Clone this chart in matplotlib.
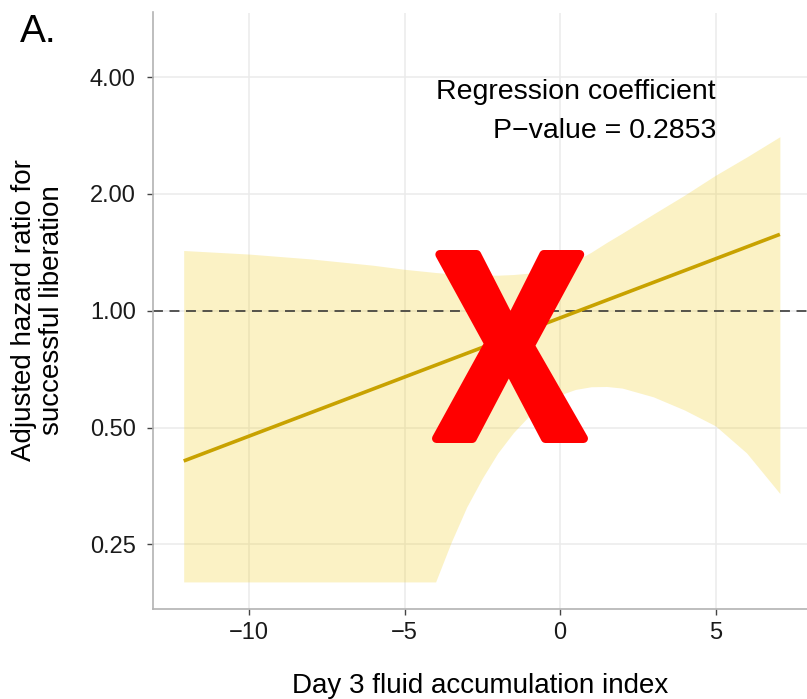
import matplotlib
matplotlib.use("Agg")
import matplotlib.pyplot as plt
from matplotlib.textpath import TextPath
from matplotlib.font_manager import FontProperties
from matplotlib.patches import PathPatch
from matplotlib.transforms import Affine2D

plt.rcParams['font.family'] = ['Liberation Sans', 'DejaVu Sans']

# band (x = day 3 fluid accumulation index)
band_x = [-12.1, -10, -8, -6, -5, -4.0, -3.5, -3.0, -2.5, -2.0, -1.5, -1.0, -0.5,
          0, 0.5, 1.0, 1.5, 2.0, 3.0, 4.0, 5.0, 6.0, 7.07]
band_lower = [0.2, 0.2, 0.2, 0.2, 0.2, 0.2, 0.253, 0.312, 0.37, 0.43, 0.485, 0.535, 0.575,
              0.607, 0.627, 0.637, 0.638, 0.632, 0.60, 0.555, 0.505, 0.43, 0.338]
band_upper = [1.43, 1.40, 1.36, 1.31, 1.279, 1.255, 1.245, 1.24, 1.235, 1.235, 1.24, 1.25, 1.27,
              1.30, 1.345, 1.415, 1.50, 1.585, 1.775, 1.985, 2.235, 2.49, 2.81]

# fitted hazard ratio at both ends of the data
fit_x = [-12.1, 7.07]
fit_hr = [0.41, 1.574]

y_ticks = [0.25, 0.5, 1, 2, 4]
y_tick_labels = ['0.25', '0.50', '1.00', '2.00', '4.00']
x_ticks = [-10, -5, 0, 5]

W, H = 807, 699
fig = plt.figure(figsize=(W / 100, H / 100), dpi=100)
ax = fig.add_axes([153 / W, 1 - 609 / H, 1 - 153 / W, (609 - 12.5) / H])

ax.set_yscale('log')
ax.set_xlim(-13.087, 7.942)
ax.set_ylim(0.1703, 5.873)

ax.grid(True, which='major', color='#ebebeb', lw=1.1, zorder=0)
ax.set_axisbelow(True)

ax.fill_between(band_x, band_lower, band_upper, color='#F0CE20', alpha=0.26, lw=0, zorder=1)
ax.axhline(1, color='#2b2b2b', lw=1.1, linestyle=(0, (6.5, 4.3)), zorder=2)
ax.plot(fit_x, fit_hr, color='#C8A200', lw=2.6, solid_capstyle='butt', zorder=3)

ax.set_yticks(y_ticks)
ax.set_yticklabels(y_tick_labels)
ax.yaxis.set_minor_locator(matplotlib.ticker.NullLocator())
ax.set_xticks(x_ticks)
ax.set_xticklabels(['\u221210', '\u22125', '0', '5'])

for s in ['top', 'right']:
    ax.spines[s].set_visible(False)
for s in ['left', 'bottom']:
    ax.spines[s].set_color('#b3b3b3')
    ax.spines[s].set_linewidth(1.2)

ax.tick_params(axis='both', length=4.5, width=1.0, color='#444444', labelsize=17,
               labelcolor='#1a1a1a')
ax.tick_params(axis='y', pad=8)
ax.tick_params(axis='x', pad=5)

fig.text(716 / W, 1 - 99.3 / H, 'Regression coefficient', ha='right', va='baseline', fontsize=20.5)
fig.text(716 / W, 1 - 138.3 / H, 'P\u2212value = 0.2853', ha='right', va='baseline', fontsize=20.5)

fig.text(480 / W, 1 - 693 / H, 'Day 3 fluid accumulation index', ha='center',
         va='baseline', fontsize=20)
fig.text(38 / W, 1 - 310.5 / H, 'Adjusted hazard ratio for\nsuccessful liberation',
         rotation=90, ha='center', va='center', fontsize=20, linespacing=1.1)
fig.text(20 / W, 1 - 41.7 / H, 'A.', ha='left', va='baseline', fontsize=28)

# red cross drawn over the panel, squeezed into its box (pixels); the thick
# round-joined edge fattens the strokes and rounds the ends
edge = 4.5
x0, x1, ytop, ybot = 432 + edge, 588 - edge, 250 + edge, 443 - edge
tp = TextPath((0, 0), 'X', size=100, prop=FontProperties(family='Open Sans', weight='bold'))
ext = tp.get_extents()
sx = (x1 - x0) / ext.width / W
sy = (ybot - ytop) / ext.height / H
tr = Affine2D().translate(-ext.x0, -ext.y0).scale(sx, sy).translate(x0 / W, 1 - ybot / H)
cross = PathPatch(tr.transform_path(tp), facecolor='#ff0000', edgecolor='#ff0000',
                  lw=edge * 2 * 0.72, joinstyle='round', transform=fig.transFigure, zorder=10)
fig.patches.append(cross)

fig.savefig('out.png', dpi=100)
